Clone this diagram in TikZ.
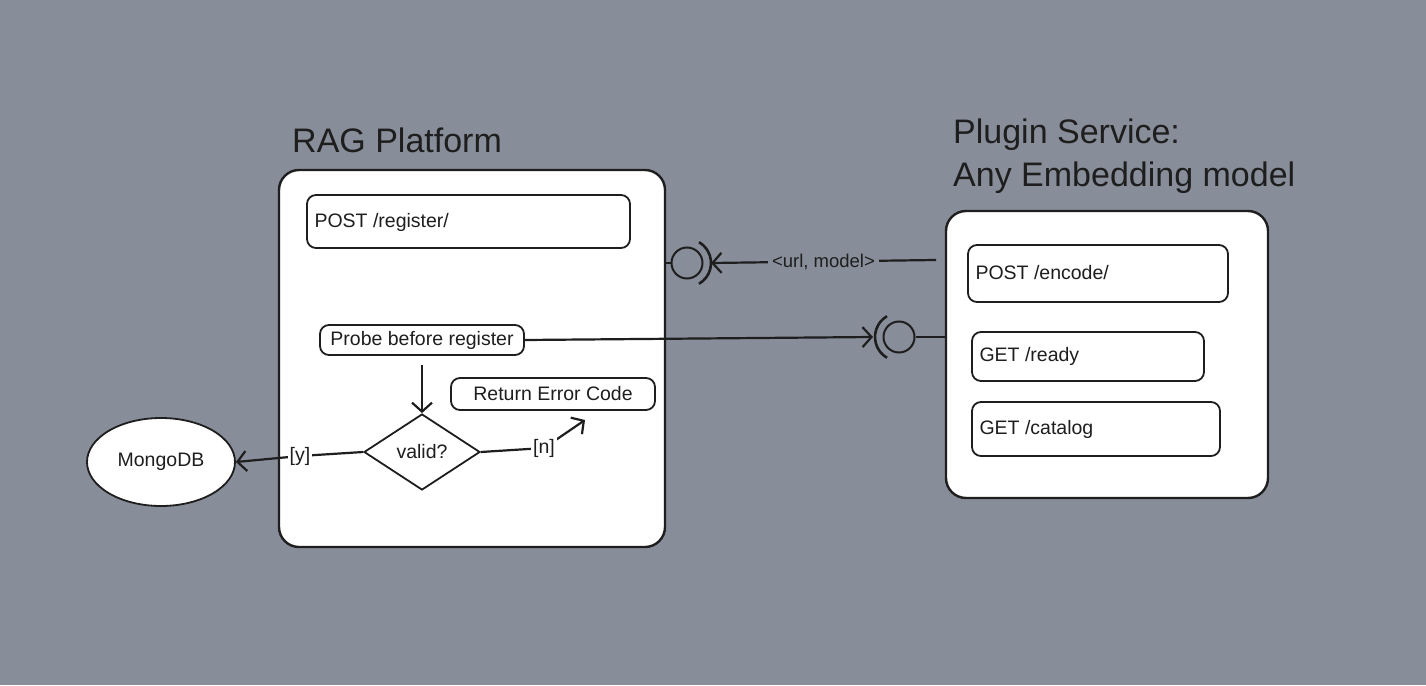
\documentclass[tikz,border=0pt]{standalone}
\usepackage{fontspec}
\setmainfont{Liberation Sans}
\usetikzlibrary{arrows.meta,shapes.geometric}
\definecolor{bg}{HTML}{888E99}
\definecolor{ink}{HTML}{1E1E1E}
\tikzset{
  frame/.style={draw=ink,line width=2.4pt,fill=white,rounded corners=20pt},
  ep/.style={draw=ink,line width=1.8pt,fill=white,rounded corners=9pt,inner sep=0pt},
  txt/.style={font=\fontsize{19.5}{23}\selectfont,text=ink},
  ttl/.style={font=\fontsize{34}{38}\selectfont,text=ink,anchor=west,inner sep=0pt,align=left},
  conn/.style={draw=ink,line width=2.2pt},
  arr/.style={conn,-{Straight Barb[length=9pt,width=20pt,line width=2.2pt]}},
  lbl/.style={txt,inner sep=2pt},
}
\begin{document}
\begin{tikzpicture}[x=1pt,y=-1pt]
\fill[bg] (0,0) rectangle (1426,685);
\useasboundingbox (0,0) rectangle (1426,685);

% titles
\node[ttl] (ragt) at (292,140) {RAG Platform};
\node[ttl,anchor=north west] (plugt) at (953,119) {Plugin Service:\\[5pt]Any Embedding model};

% containers
\path[frame] (279,170) rectangle (665,547);
\node[inner sep=0pt,minimum width=386pt,minimum height=377pt] (rag) at (472,358.5) {};
\path[frame] (946,211) rectangle (1268,498);
\node[inner sep=0pt,minimum width=322pt,minimum height=287pt] (plug) at (1107,354.5) {};

% RAG internals
\node[ep,minimum width=323pt,minimum height=53pt] (reg) at (468.5,221.5) {};
\node[txt,anchor=west] at (311,222) {POST /register/};
\node[ep,txt,minimum width=204pt,minimum height=30pt] (probe) at (422,340) {Probe before register};
\node[ep,txt,minimum width=204pt,minimum height=32pt] (err) at (553,394) {Return Error Code};
\node[diamond,draw=ink,line width=1.8pt,fill=white,txt,minimum width=116pt,minimum height=76pt,inner sep=0pt] (valid) at (422,452) {valid?};
\node[ellipse,draw=ink,line width=1.8pt,fill=white,txt,minimum width=148pt,minimum height=88pt] (mongo) at (161,462) {MongoDB};

% plugin internals
\node[ep,minimum width=260pt,minimum height=57pt] (enc) at (1098,273.5) {};
\node[txt,anchor=west] at (972,273) {POST /encode/};
\node[ep,minimum width=232pt,minimum height=49pt] (ready) at (1088,356.5) {};
\node[txt,anchor=west] at (976,356) {GET /ready};
\node[ep,minimum width=248pt,minimum height=54pt] (cat) at (1096,429) {};
\node[txt,anchor=west] at (976,429) {GET /catalog};

% interfaces
\node[circle,draw=ink,line width=2pt,minimum size=31pt,inner sep=0pt] (ifa) at (687,263) {};
\draw[conn] (665,263) -- (ifa.west);
\draw[conn,line width=2.6pt] (ifa.center) ++(60:24) arc (60:-60:24);
\coordinate (sockA) at (711,263);

\node[circle,draw=ink,line width=2pt,minimum size=31pt,inner sep=0pt] (ifb) at (899,337) {};
\draw[conn] (ifb.east) -- (945,337);
\draw[conn,line width=2.6pt] (ifb.center) ++(120:24) arc (120:240:24);
\coordinate (sockB) at (873,337);

% connectors
\coordinate (plugL) at (936,260);
\draw[arr] (plugL) -- node[lbl,fill=bg,pos=0.5,inner xsep=4pt,font=\fontsize{18.5}{22}\selectfont] {<url, model>} (sockA);
\draw[arr] (probe.east) -- (sockB);
\draw[arr] (422,365) -- (valid.north);
\coordinate (ybend) at (300,456);
\draw[arr] (valid.west) -- (ybend) -- (mongo.east);
\node[lbl,fill=white] (ylbl) at (ybend) {[y]};
\coordinate (nbend) at (544,448);
\coordinate (errin) at (585,420);
\draw[arr] (valid.east) -- (nbend) -- (errin);
\node[lbl,fill=white] (nlbl) at (nbend) {[n]};
\end{tikzpicture}
\end{document}
